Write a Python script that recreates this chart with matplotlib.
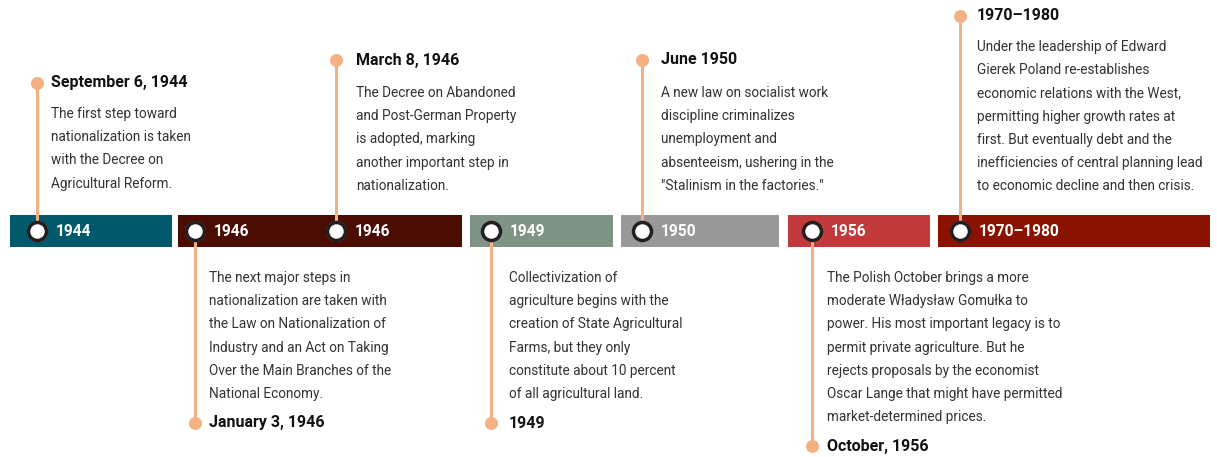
import matplotlib
matplotlib.use("Agg")
import matplotlib.pyplot as plt
from matplotlib.patches import Rectangle

plt.rcParams['font.family'] = ['Roboto', 'DejaVu Sans']

# timeline segments
seg_labels = ['1944', '1946', '1949', '1950', '1956', '1970–1980']
seg_colors = ['#015a6c', '#4b0c02', '#7f9484', '#999999', '#c1393a', '#8b1200']
seg_x0 = [10, 178, 470, 621, 788, 938]
seg_x1 = [172, 462, 613, 779, 930, 1210]

# events: marker x, text x, title, body
ev_x = [37, 195, 336, 491, 642, 812, 960]
ev_text_x = [51, 209, 356, 509, 661, 827, 977]
ev_year = ['1944', '1946', '1946', '1949', '1950', '1956', '1970–1980']
ev_title_y = [83, 423, 60, 423, 60, 446, 16]
ev_body_y = [114, 278, 93, 278, 93, 278, 47]
ev_title = ['September 6, 1944', 'January 3, 1946', 'March 8, 1946', '1949',
            'June 1950', 'October, 1956', '1970–1980']
ev_body = [
    ['The first step toward', 'nationalization is taken', 'with the Decree on',
     'Agricultural Reform.'],
    ['The next major steps in', 'nationalization are taken with',
     'the Law on Nationalization of', 'Industry and an Act on Taking',
     'Over the Main Branches of the', 'National Economy.'],
    ['The Decree on Abandoned', 'and Post-German Property', 'is adopted, marking',
     'another important step in', 'nationalization.'],
    ['Collectivization of', 'agriculture begins with the',
     'creation of State Agricultural', 'Farms, but they only',
     'constitute about 10 percent', 'of all agricultural land.'],
    ['A new law on socialist work', 'discipline criminalizes',
     'unemployment and', 'absenteeism, ushering in the',
     '"Stalinism in the factories."'],
    ['The Polish October brings a more', 'moderate Władysław Gomułka to',
     'power. His most important legacy is to', 'permit private agriculture. But he',
     'rejects proposals by the economist', 'Oscar Lange that might have permitted',
     'market-determined prices.'],
    ['Under the leadership of Edward', 'Gierek Poland re-establishes',
     'economic relations with the West,', 'permitting higher growth rates at',
     'first. But eventually debt and the', 'inefficiencies of central planning lead',
     'to economic decline and then crisis.'],
]

W, H = 1217, 457
fig = plt.figure(figsize=(W / 100, H / 100), dpi=100)
ax = fig.add_axes([0, 0, 1, 1])
ax.set_xlim(0, W)
ax.set_ylim(H, 0)
ax.axis('off')

bar_top, bar_h = 215, 32
bar_y = bar_top + bar_h / 2
orange = '#f4b183'
pt = 72 / 100  # px -> pt

for x0, x1, c in zip(seg_x0, seg_x1, seg_colors):
    ax.add_patch(Rectangle((x0, bar_top), x1 - x0, bar_h, facecolor=c,
                           edgecolor='none', zorder=1))

line_gap = 23.2
for x, tx, yr, ty, by, title, body in zip(ev_x, ev_text_x, ev_year, ev_title_y,
                                          ev_body_y, ev_title, ev_body):
    ax.plot([x, x], [ty, bar_y], color=orange, lw=3 * pt, zorder=2,
            solid_capstyle='butt')
    ax.plot(x, ty, 'o', color=orange, ms=13 * pt, mew=0, zorder=3)
    ax.plot(x, bar_y, 'o', color=orange, ms=21 * pt, mew=0, zorder=4)
    ax.plot(x, bar_y, 'o', mfc='white', mec='#231f20', ms=18 * pt,
            mew=3.5 * pt, zorder=5)
    ax.text(x + 19, bar_y + 1, yr, color='white', fontsize=15.5 * pt,
            fontweight='bold', va='center', ha='left', zorder=6)
    ax.text(tx, ty, title, color='#111111', fontsize=16 * pt,
            fontweight='bold', va='center', ha='left')
    for i, line in enumerate(body):
        ax.text(tx, by + i * line_gap, line, color='#333333',
                fontsize=13.6 * pt, va='center', ha='left')

fig.savefig('out.png', dpi=100)
